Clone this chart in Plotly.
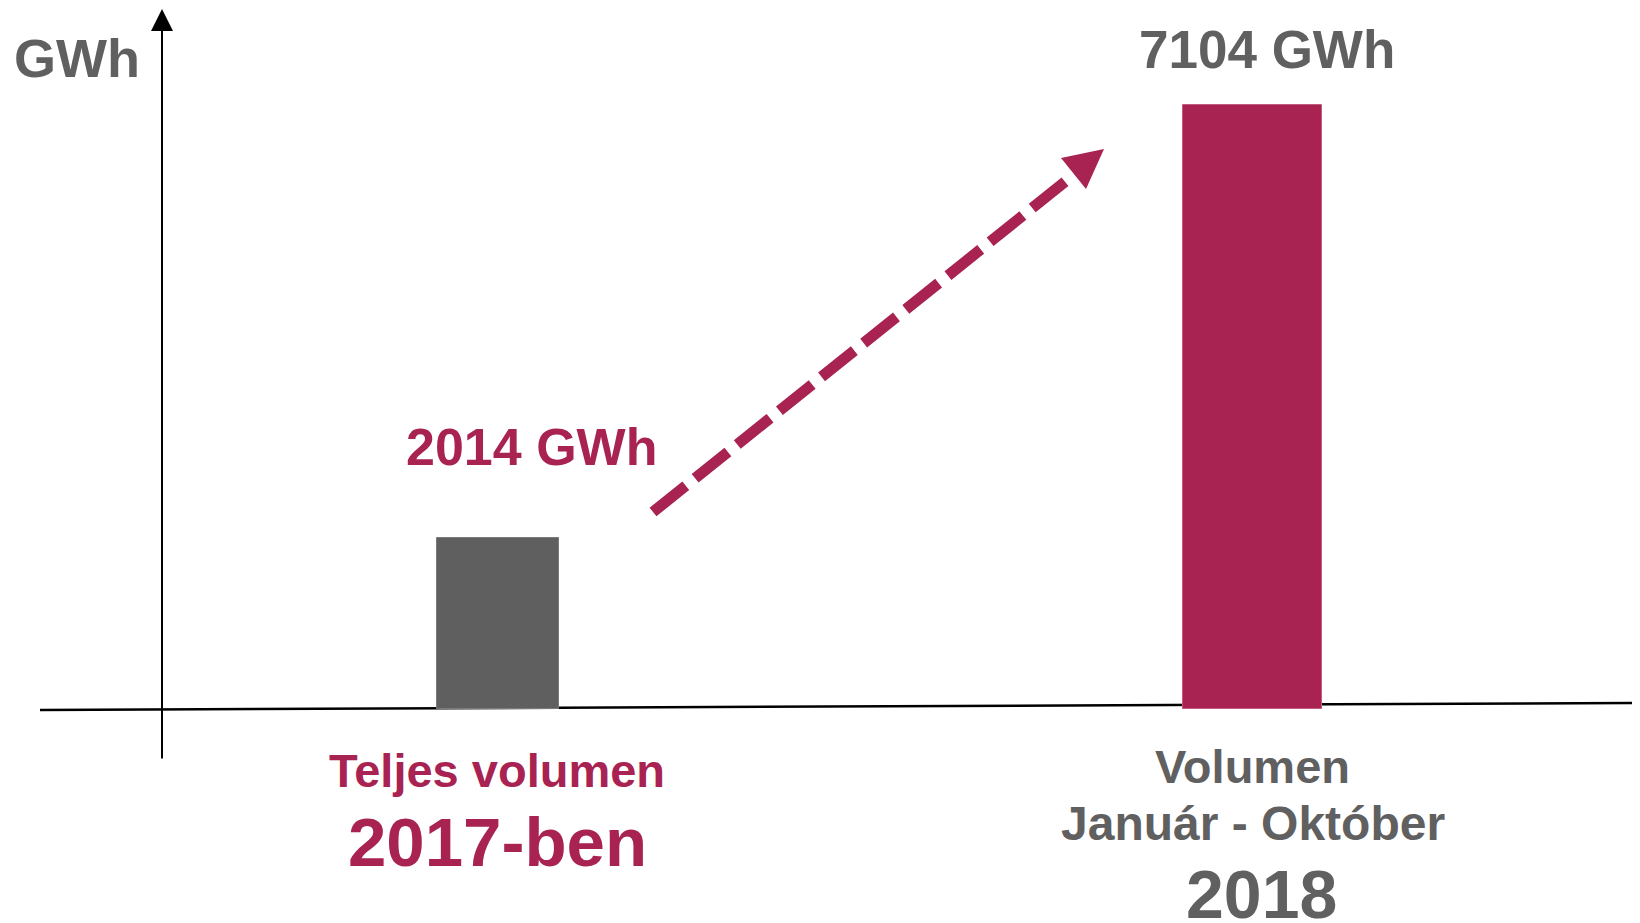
"""Éves volumen összehasonlítás (2017 vs 2018)"""
import plotly.graph_objects as go

# adatok
categories = ['2017', '2018']
values_gwh = [2014, 7104]
value_labels = ['2014 GWh', '7104 GWh']
bar_colors = ['#5E5F5E', '#A82352']
bottom_labels = [
    ['Teljes volumen', '2017-ben'],
    ['Volumen', 'Január - Október', '2018'],
]
unit_label = 'GWh'

# az oldal body margója (8px) miatt a figura kicsit kisebb és el van tolva
OFF = 8
W, H = 1640 - OFF, 923 - OFF
GRAY = '#5F605F'
CRIMSON = '#A82352'
FONT = 'Liberation Sans, Arial, sans-serif'


def px(x):
    return (x - OFF) / W


def py(y):
    return 1 - (y - OFF) / H


fig = go.Figure()

# oszlopok
fig.add_trace(
    go.Bar(
        x=categories,
        y=values_gwh,
        width=[0.162, 0.184],
        marker=dict(color=bar_colors,
                    line=dict(color=['#7A7B7A', '#C25A7E'], width=1)),
        showlegend=False,
        hoverinfo='skip'
    )
)

annotations = []

# y tengely nyíllal
annotations.append(dict(
    x=px(162), y=py(8), xref='paper', yref='paper',
    ax=0, ay=752, axref='pixel', ayref='pixel',
    text='', showarrow=True, arrowhead=2, arrowsize=2.2,
    arrowwidth=2, arrowcolor='black', standoff=0
))

# feliratok
annotations.append(dict(x=px(77), y=py(58), text='<b>' + unit_label + '</b>',
                        font=dict(family=FONT, size=54, color=GRAY)))
annotations.append(dict(x=px(531), y=py(447), text='<b>' + value_labels[0] + '</b>',
                        font=dict(family=FONT, size=52, color=CRIMSON)))
annotations.append(dict(x=px(1267), y=py(50), text='<b>' + value_labels[1] + '</b>',
                        font=dict(family=FONT, size=53, color=GRAY)))

annotations.append(dict(x=px(497), y=py(770), text='<b>' + bottom_labels[0][0] + '</b>',
                        font=dict(family=FONT, size=47, color=CRIMSON)))
annotations.append(dict(x=px(497), y=py(842), text='<b>' + bottom_labels[0][1] + '</b>',
                        font=dict(family=FONT, size=69, color=CRIMSON)))

annotations.append(dict(x=px(1252), y=py(766), text='<b>' + bottom_labels[1][0] + '</b>',
                        font=dict(family=FONT, size=47, color=GRAY)))
annotations.append(dict(x=px(1253), y=py(823), text='<b>' + bottom_labels[1][1] + '</b>',
                        font=dict(family=FONT, size=48, color=GRAY)))
annotations.append(dict(x=px(1261), y=py(894), text='<b>' + bottom_labels[1][2] + '</b>',
                        font=dict(family=FONT, size=68, color=GRAY)))

for a in annotations:
    a.setdefault('xref', 'paper')
    a.setdefault('yref', 'paper')
    a.setdefault('showarrow', False)
    a.setdefault('xanchor', 'center')
    a.setdefault('yanchor', 'middle')

# szaggatott nyíl
shapes = [
    dict(type='line', xref='paper', yref='paper',
         x0=px(653), y0=py(512), x1=px(1066), y1=py(181),
         line=dict(color=CRIMSON, width=11, dash='42px,12px')),
    dict(type='path', xref='paper', yref='paper',
         path=f'M {px(1104)},{py(149)} L {px(1061)},{py(158)} L {px(1086)},{py(189)} Z',
         fillcolor=CRIMSON, line=dict(width=0)),
    # x tengely vonala, a nyílhegy a kép szélén túl van
    dict(type='line', xref='paper', yref='paper',
         x0=px(40), y0=py(710), x1=px(1640), y1=py(703),
         line=dict(color='black', width=2.5), layer='below'),
    dict(type='path', xref='paper', yref='paper',
         path=f'M {px(1637)},{py(695)} L {px(1660)},{py(703)} L {px(1637)},{py(711)} Z',
         fillcolor='black', line=dict(width=0)),
]

# oszlopközéppontok: 498 és 1252 px, alapvonal 709 px, 7104 teteje 105 px
fig.update_xaxes(visible=False, range=[-0.6494, 1.5136])
fig.update_yaxes(visible=False, range=[-2517, 8245])

fig.update_layout(
    width=W,
    height=H,
    margin=dict(l=0, r=0, t=0, b=0),
    plot_bgcolor='white',
    paper_bgcolor='white',
    annotations=annotations,
    shapes=shapes,
    bargap=0
)

fig.write_html("out.html")
